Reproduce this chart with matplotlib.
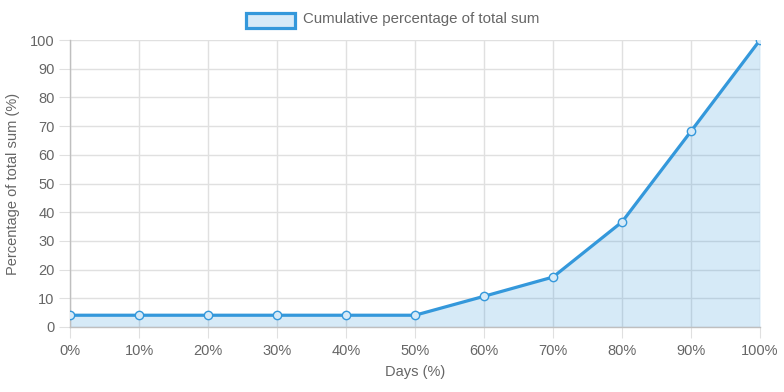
import numpy as np
import matplotlib.pyplot as plt
from matplotlib.patches import Rectangle

plt.rcParams['font.family'] = ['Liberation Sans', 'DejaVu Sans']

days = [0, 10, 20, 30, 40, 50, 60, 70, 80, 90, 100]
cum_pct = [4.1, 4.1, 4.1, 4.1, 4.1, 4.1, 10.7, 17.4, 36.6, 68.2, 100]
x_labels = ['%d%%' % d for d in days]

blue = '#3498db'
fill = (52/255, 152/255, 219/255, 0.2)
grid = '#e0e0e0'
txt = '#666666'

fig = plt.figure(figsize=(7.84, 3.92), dpi=100)
ax = fig.add_axes([70/784, 65/392, 690/784, 287/392])

ax.fill_between(days, cum_pct, 0, color=fill, lw=0, zorder=2)
ax.plot(days, cum_pct, color=blue, lw=2.3, zorder=3,
        marker='o', ms=6, mfc='#d6eaf8', mec=blue, mew=1)

ax.set_xlim(0, 100)
ax.set_ylim(0, 100)
ax.set_xticks(days)
ax.set_xticklabels(x_labels)
ax.set_yticks(np.arange(0, 101, 10))
ax.grid(True, color=grid, lw=1, zorder=0)
ax.set_axisbelow(True)
for s in ['top', 'right']:
    ax.spines[s].set_visible(False)
for s in ['left', 'bottom']:
    ax.spines[s].set_color('#bfbfbf')
    ax.spines[s].set_linewidth(1)
ax.tick_params(length=8, color=grid, labelcolor=txt, labelsize=10.5, pad=3)
ax.tick_params(axis='x', pad=4)

ax.set_xlabel('Days (%)', color=txt, fontsize=10.5, labelpad=5)
ax.set_ylabel('Percentage of total sum (%)', color=txt, fontsize=10.5, labelpad=7)

# legend (chart.js style box)
fig.patches.append(Rectangle((246/784, 1 - 28/392), 49/784, 15/392,
                             transform=fig.transFigure, facecolor='#d6eaf8',
                             edgecolor=blue, lw=2.3))
fig.text(303/784, 1 - 19/392, 'Cumulative percentage of total sum',
         color=txt, fontsize=10.8, va='center', ha='left')

fig.savefig('out.png', dpi=100)
